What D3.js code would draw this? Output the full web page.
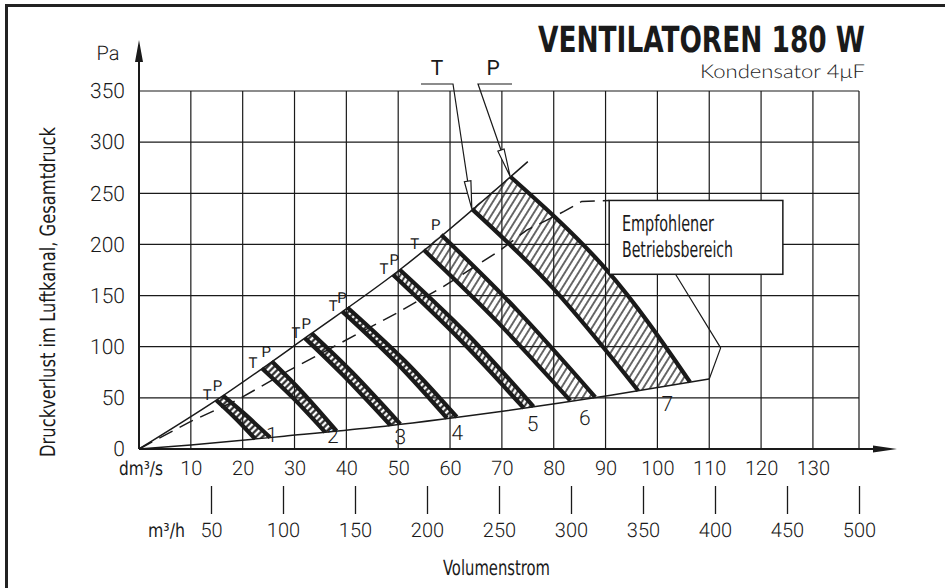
<!DOCTYPE html>
<html>
<head>
<meta charset="utf-8">
<script src="https://cdn.jsdelivr.net/npm/d3@7"></script>
<style>
  body { margin: 0; background: #fff; }
  svg { display: block; }
  svg text { text-rendering: geometricPrecision; }
</style>
</head>
<body>
<script>
// values (flow in dm³/s, pressure in Pa)
const pressureTicks = [0, 50, 100, 150, 200, 250, 300, 350];
const flowTicks = [10, 20, 30, 40, 50, 60, 70, 80, 90, 100, 110, 120, 130];
const flowTicksHourly = [50, 100, 150, 200, 250, 300, 350, 400, 450, 500];

const upperLine = [[0, 0], [15, 48], [33, 112], [50, 174], [75, 281]];
const lowerLine = [[0, 0], [10, 4], [28, 12.5], [45, 21], [68, 35.5], [91, 52.5], [110, 68.5]];
const recommendLine = [[0, 0], [10, 27], [19, 48], [28.5, 75.6], [38.8, 103.4], [49.7, 132.8],
  [58.7, 158.8], [69.3, 193], [74.8, 214], [81.9, 232], [85.4, 242], [90.7, 243]];

const bandNames = ['1', '2', '3', '4', '5', '6', '7'];
// T curve (lower speed edge) and P curve (upper edge): top, middle, bottom
const curvesT = [
  [[14.9, 47.7], [18.4, 31], [22.4, 9.9]],
  [[23.7, 79.0], [29.8, 49.5], [35.9, 16.5]],
  [[32.0, 108.4], [39.4, 72], [48.5, 23.2]],
  [[39.2, 134.6], [49.7, 84], [59.4, 30.1]],
  [[49.0, 170.3], [61.8, 107.5], [74.2, 40.1]],
  [[54.9, 194.8], [69.0, 125], [83.2, 47.3]],
  [[64.2, 234.8], [79.9, 157], [96.3, 57.0]]
];
const curvesP = [
  [[16.2, 52.3], [20.1, 35.5], [25.3, 11.3]],
  [[25.6, 85.7], [31.4, 56], [38.1, 17.6]],
  [[33.3, 113.1], [41.3, 74], [50.4, 24.4]],
  [[40.2, 138.3], [51.3, 86], [61.3, 31.3]],
  [[50.3, 175.3], [63.4, 112], [76.1, 41.5]],
  [[58.3, 209.5], [72.9, 136], [88.0, 50.8]],
  [[71.6, 266.4], [90.2, 175.1], [106.3, 65.4]]
];
const bandLabelAt = [[25.6, 14.7], [37.4, 13.7], [50.4, 12.7], [61.4, 16.1], [75.9, 25.4], [86.0, 30.8], [101.9, 45.0]];

// "Empfohlener Betriebsbereich" note box and its pointer
const noteBox = { q: [90.7, 124.2], pa: [170.8, 243] };
const notePointer = [[103.5, 170.8], [112.2, 98.9], [110, 68.5]];

const W = 945, H = 588;
const ink = '#1a1a1a';
const techFont = "Roboto, 'DejaVu Sans', sans-serif";
const narrowFont = "'Liberation Sans Narrow', 'DejaVu Sans Condensed', 'Roboto Condensed', sans-serif";
const roundFont = "Lato, 'Open Sans', sans-serif";

const svg = d3.select('body').append('svg')
  .attr('width', W)
  .attr('height', H);

const x = d3.scaleLinear().domain([0, 500 / 3.6]).range([139, 859]);
const xh = d3.scaleLinear().domain([0, 500]).range([139, 859]);
const y = d3.scaleLinear().domain([0, 350]).range([449, 91]);

const defs = svg.append('defs');

function hatch(id, gap, angle, width) {
  defs.append('pattern')
    .attr('id', id)
    .attr('patternUnits', 'userSpaceOnUse')
    .attr('width', gap)
    .attr('height', 10)
    .attr('patternTransform', `rotate(${angle})`)
    .append('line')
    .attr('x1', gap / 2).attr('x2', gap / 2)
    .attr('y1', -1).attr('y2', 11)
    .attr('stroke', ink)
    .attr('stroke-width', width);
}
hatch('rungs', 4.6, 45, 2.1);
hatch('rungsSteep', 4.6, 32, 1.8);
hatch('lines', 5.8, 32, 1.3);

// frame (only top and left edges are in the picture)
svg.append('path')
  .attr('d', `M6.5,${H} V5.5 H${W}`)
  .attr('fill', 'none')
  .attr('stroke', '#222')
  .attr('stroke-width', 3);

// grid
let gGrid = svg.append('g')
  .attr('stroke', ink)
  .attr('stroke-width', 1.2);

gGrid.selectAll('line.h')
  .data(pressureTicks.slice(1))
  .join('line')
  .attr('x1', x(0)).attr('x2', x.range()[1])
  .attr('y1', d => y(d)).attr('y2', d => y(d));

gGrid.selectAll('line.v')
  .data(flowTicks.concat([x.domain()[1]]))
  .join('line')
  .attr('x1', d => x(d)).attr('x2', d => x(d))
  .attr('y1', y(0)).attr('y2', y(350));

// axes with arrows
const xEnd = x.range()[1] + 38;
const yTop = y(350) - 51;
svg.append('path')
  .attr('d', `M${x(0)},${y(0)} H${xEnd - 20} M${x(0)},${y(0)} V${yTop + 20}`)
  .attr('stroke', ink)
  .attr('stroke-width', 2);
svg.append('path')
  .attr('d', `M${xEnd},${y(0)} L${xEnd - 24},${y(0) - 3.5} L${xEnd - 24},${y(0) + 3.5} Z
              M${x(0)},${yTop} L${x(0) - 4},${yTop + 22} L${x(0) + 4},${yTop + 22} Z`)
  .attr('fill', ink);

function tickText(g, size) {
  g.select('.domain').remove();
  g.attr('font-family', techFont)
    .attr('font-size', size)
    .attr('font-weight', 300);
  g.selectAll('text').attr('fill', ink);
  g.selectAll('line').attr('stroke', ink).attr('stroke-width', 1.3);
}

svg.append('g')
  .attr('transform', `translate(${x(0)},0)`)
  .call(d3.axisLeft(y).tickValues(pressureTicks).tickSize(0).tickPadding(14))
  .call(g => tickText(g, 21));

svg.append('g')
  .attr('transform', `translate(0,${y(0)})`)
  .call(d3.axisBottom(x).tickValues(flowTicks).tickSize(0).tickPadding(12))
  .call(g => tickText(g, 20));

svg.append('g')
  .attr('transform', 'translate(0,486)')
  .call(d3.axisBottom(xh).tickValues(flowTicksHourly).tickSize(28).tickPadding(9))
  .call(g => tickText(g, 20));

// unit and axis titles
svg.append('text')
  .attr('x', 108).attr('y', 60)
  .attr('text-anchor', 'middle')
  .attr('font-family', techFont).attr('font-weight', 300).attr('font-size', 20)
  .attr('fill', ink)
  .text('Pa');

function narrowText(txt, px, py, len, size, weight) {
  return svg.append('text')
    .attr('x', px).attr('y', py)
    .attr('font-family', narrowFont)
    .attr('font-size', size)
    .attr('font-weight', weight || 'normal')
    .attr('textLength', len)
    .attr('lengthAdjust', 'spacingAndGlyphs')
    .attr('fill', ink)
    .text(txt);
}

narrowText('dm³/s', 119, 475, 44, 19);
narrowText('m³/h', 148, 537, 37, 19);
narrowText('Volumenstrom', 443, 575, 107, 21);
narrowText('Druckverlust im Luftkanal, Gesamtdruck', 0, 0, 330, 21)
  .attr('transform', 'translate(55,457) rotate(-90)');

narrowText('VENTILATOREN 180 W', 538, 52, 327, 36, 'bold');
svg.append('text')
  .attr('x', 700).attr('y', 78)
  .attr('font-family', roundFont).attr('font-size', 19).attr('font-weight', 300)
  .attr('textLength', 165).attr('lengthAdjust', 'spacingAndGlyphs')
  .attr('fill', ink)
  .text('Kondensator 4μF');

// system curves: upper and lower limit, recommended line
const line = d3.line()
  .x(d => x(d[0]))
  .y(d => y(d[1]));

svg.append('path')
  .datum(upperLine)
  .attr('d', line.curve(d3.curveMonotoneX))
  .attr('fill', 'none').attr('stroke', ink).attr('stroke-width', 1.5);

svg.append('path')
  .datum(lowerLine)
  .attr('d', line.curve(d3.curveMonotoneX))
  .attr('fill', 'none').attr('stroke', ink).attr('stroke-width', 1.5);

svg.append('path')
  .datum(recommendLine)
  .attr('d', line.curve(d3.curveLinear))
  .attr('fill', 'none').attr('stroke', ink).attr('stroke-width', 1.5)
  .attr('stroke-dasharray', '15,8');

// fan bands
const curve = d3.line()
  .x(d => x(d[0]))
  .y(d => y(d[1]))
  .curve(d3.curveNatural);

let gBands = svg.append('g');
bandNames.forEach(function(name, i) {
  let t = curvesT[i], p = curvesP[i];
  let fill = i < 4 ? 'rungs' : i < 5 ? 'rungsSteep' : 'lines';
  gBands.append('path')
    .attr('d', curve(t) + curve(p.slice().reverse()).replace('M', 'L') + 'Z')
    .attr('fill', `url(#${fill})`);
  [t, p].forEach(function(c) {
    gBands.append('path')
      .attr('d', curve(c))
      .attr('fill', 'none')
      .attr('stroke', ink)
      .attr('stroke-width', 4.2);
  });

  gBands.append('text')
    .attr('x', x(bandLabelAt[i][0])).attr('y', y(bandLabelAt[i][1]))
    .attr('text-anchor', 'middle').attr('dy', '0.36em')
    .attr('font-family', techFont).attr('font-weight', 300).attr('font-size', 21)
    .attr('fill', ink)
    .text(name);

  if (i < 6) {
    [['T', t[0], -9, -6], ['P', p[0], -5.5, -10]].forEach(function([s, pt, dx, dy]) {
      gBands.append('text')
        .attr('x', x(pt[0]) + dx).attr('y', y(pt[1]) + dy)
        .attr('text-anchor', 'middle').attr('dy', '0.36em')
        .attr('font-family', techFont).attr('font-size', 15)
        .attr('fill', ink)
        .text(s);
    });
  }
});

// big T / P callouts on the largest band
function callout(label, tx, barFrom, barTo, target) {
  let tipX = x(target[0]), tipY = y(target[1]);
  let dx = tipX - barFrom, dy = tipY - 84;
  let len = Math.hypot(dx, dy), ux = dx / len, uy = dy / len;
  let bx = tipX - ux * 28, by = tipY - uy * 28;
  svg.append('text')
    .attr('x', tx).attr('y', 75)
    .attr('text-anchor', 'middle')
    .attr('font-family', techFont).attr('font-size', 21)
    .attr('fill', ink)
    .text(label);
  svg.append('path')
    .attr('d', `M${barTo},84 H${barFrom} L${bx},${by}`)
    .attr('fill', 'none').attr('stroke', ink).attr('stroke-width', 1.2);
  svg.append('path')
    .attr('d', `M${tipX},${tipY} L${bx - uy * 3.3},${by + ux * 3.3} L${bx + uy * 3.3},${by - ux * 3.3} Z`)
    .attr('fill', '#fff').attr('stroke', ink).attr('stroke-width', 1.2);
}
callout('T', 437, 453, 421, curvesT[6][0]);
callout('P', 493, 478, 512, curvesP[6][0]);

// note box
svg.append('path')
  .datum(notePointer)
  .attr('d', line.curve(d3.curveLinear))
  .attr('fill', 'none').attr('stroke', ink).attr('stroke-width', 1.2);

svg.append('rect')
  .attr('x', x(noteBox.q[0])).attr('y', y(noteBox.pa[1]))
  .attr('width', x(noteBox.q[1]) - x(noteBox.q[0]))
  .attr('height', y(noteBox.pa[0]) - y(noteBox.pa[1]))
  .attr('fill', '#fff').attr('stroke', ink).attr('stroke-width', 1.5);

narrowText('Empfohlener', 622, 231, 92, 22);
narrowText('Betriebsbereich', 622, 257, 111, 22);
</script>
</body>
</html>
